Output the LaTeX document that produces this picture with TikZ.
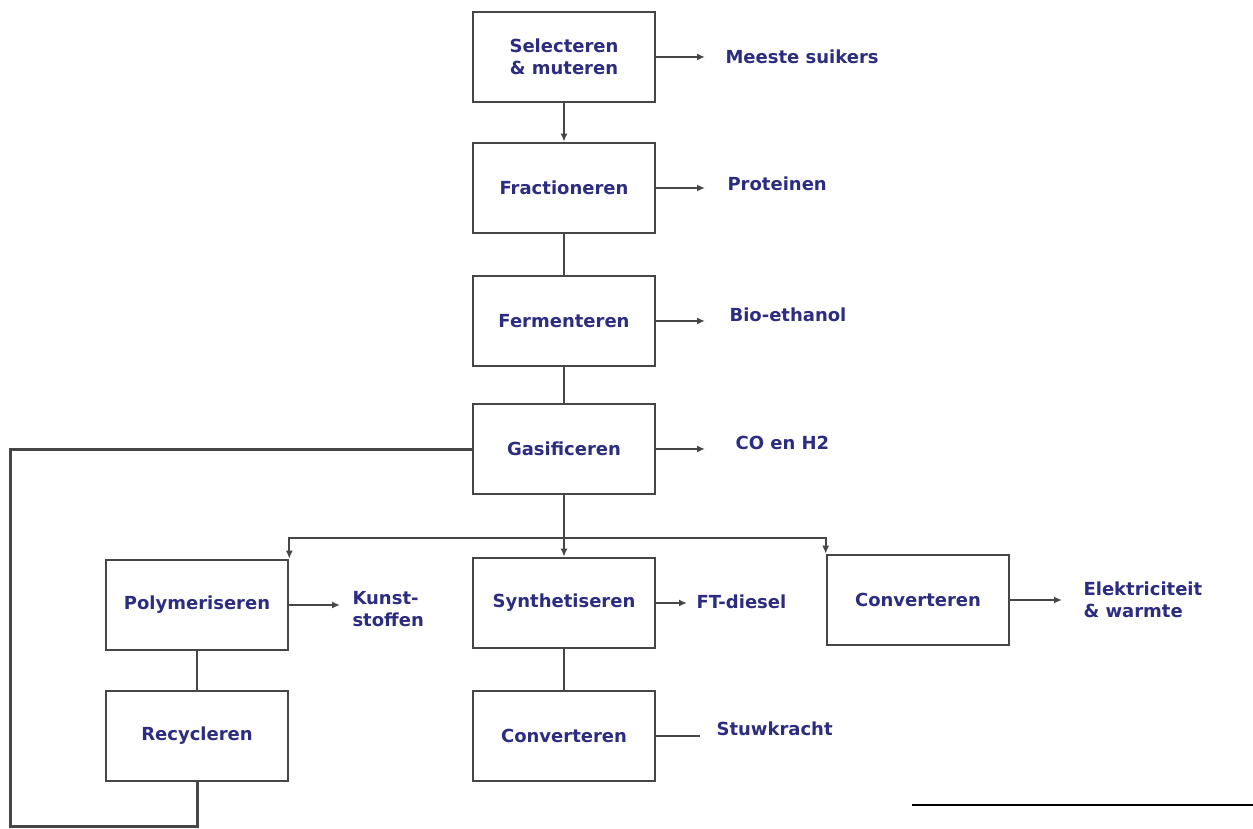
\documentclass[tikz,border=0pt]{standalone}
\usepackage{fontspec}
\setmainfont{DejaVu Sans}
\usetikzlibrary{arrows.meta,positioning,calc}
\definecolor{lblblue}{RGB}{44,44,128}
\definecolor{linegray}{RGB}{70,70,70}
\begin{document}
\begin{tikzpicture}[x=1pt,y=-1pt,>={Latex[length=8pt,width=7pt]},
font=\fontsize{18}{22}\selectfont\bfseries,
box/.style={draw=linegray,line width=2.6pt,minimum width=182pt,minimum height=90pt,align=center,text=lblblue},
lbl/.style={anchor=west,align=left,text=lblblue},
arr/.style={->,line width=2pt,draw=linegray},
conn/.style={line width=2pt,draw=linegray}]
\useasboundingbox (0,0) rectangle (1253,829);
\node[box] (sel) at (564,57) {Selecteren\\\& muteren};
\node[box] (frac) at (564,188) {Fractioneren};
\node[box] (ferm) at (564,321) {Fermenteren};
\node[box] (gas) at (564,449) {Gasificeren};
\node[box] (poly) at (197,605) {Polymeriseren};
\node[box] (recy) at (197,736) {Recycleren};
\node[box] (synth) at (564,603) {Synthetiseren};
\node[box] (convb) at (564,736) {Converteren};
\node[box] (convr) at (918,600) {Converteren};
\node[lbl] (suik) at (722,57) {Meeste suikers};
\node[lbl] (prot) at (724,184) {Proteinen};
\node[lbl] (bioeth) at (726,315) {Bio-ethanol};
\node[lbl] (coh) at (732,443) {CO en H2};
\node[lbl] (kunst) at (349,609) {Kunst-\\stoffen};
\node[lbl] (ftd) at (693,602) {FT-diesel};
\node[lbl] (elek) at (1080,600) {Elektriciteit\\\& warmte};
\node[lbl] (stuw) at (713,729) {Stuwkracht};
\draw[arr] (sel)--(frac);
\draw[conn] (frac)--(ferm);
\draw[conn] (ferm)--(gas);
\draw[arr,shorten >=17pt] (sel.east)--(sel.east-|suik.west);
\draw[arr,shorten >=19pt] (frac.east)--(frac.east-|prot.west);
\draw[arr,shorten >=21pt] (ferm.east)--(ferm.east-|bioeth.west);
\draw[arr,shorten >=27pt] (gas.east)--(gas.east-|coh.west);
\draw[arr,shorten >=9pt] (poly.east)--(poly.east-|kunst.west);
\draw[arr,shorten >=6pt] (synth.east)--(synth.east-|ftd.west);
\draw[arr,shorten >=18pt] (convr.east)--(convr.east-|elek.west);
\draw[conn,shorten >=13pt] (convb.east)--(convb.east-|stuw.west);
\draw[conn] (gas.south)--++(0,43) coordinate (bus);
\draw[arr] (bus)-|(poly.north east);
\draw[arr] (bus)-|(convr.north west);
\draw[arr] (bus)--(synth.north);
\draw[conn] (poly)--(recy);
\draw[conn] (synth)--(convb);
\coordinate (loop) at (10,826);
\draw[conn,line width=3pt] (recy.south)|-(loop)|-(gas.west);
\draw[line width=1.2pt] (912,805)--(1253,805);
\end{tikzpicture}
\end{document}
